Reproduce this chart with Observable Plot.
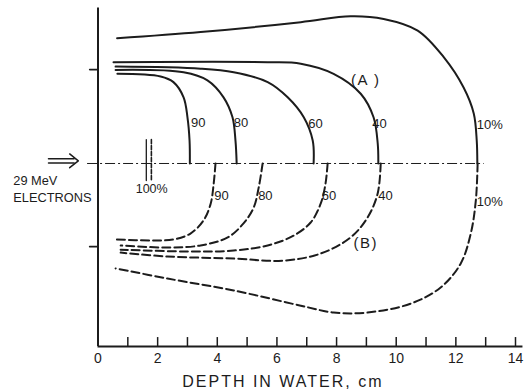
<!DOCTYPE html>
<html><head><meta charset="utf-8">
<script src="https://cdn.jsdelivr.net/npm/d3@7"></script>
<script src="https://cdn.jsdelivr.net/npm/@observablehq/plot@0.6"></script>
<style>
html,body{margin:0;padding:0;background:#fff;}
</style></head>
<body><div id="chart"></div>
<script>
// Depth (cm) vs lateral distance from central axis (cm)
// (A) solid isodose curves, upper half
const solid90 = [[0.65,3.01],[2.1,2.92],[2.53,2.73],[2.87,2.22],[3.0,1.55],[3.07,0.77],[3.08,0]];
const solid80 = [[0.59,3.14],[2.87,3.06],[3.67,2.79],[4.21,2.22],[4.51,1.55],[4.61,0.77],[4.65,0]];
const solid60 = [[0.59,3.25],[3.44,3.18],[4.55,3.06],[5.69,2.73],[6.36,2.22],[6.9,1.55],[7.2,0.77],[7.23,0]];
const solid40 = [[0.52,3.40],[5.69,3.40],[6.8,3.35],[7.9,3.01],[8.81,2.34],[9.24,1.55],[9.38,0.67],[9.4,0]];
const solid10 = [[0.64,4.2],[3.44,4.41],[6.8,4.74],[8.47,4.94],[9.58,4.85],[10.72,4.46],[11.6,3.56],[12.26,2.55],[12.6,1.68],[12.7,0.77],[12.72,0]];
// (B) dashed isodose curves, lower half
const dashed90 = [[3.94,0],[3.88,-0.67],[3.78,-1.34],[3.54,-1.91],[3.1,-2.35],[2.53,-2.55],[1.76,-2.58],[0.59,-2.55]];
const dashed80 = [[5.52,0],[5.39,-0.8],[5.22,-1.48],[4.88,-2.01],[4.35,-2.48],[3.44,-2.75],[2.33,-2.82],[0.76,-2.75]];
const dashed60 = [[7.7,0],[7.63,-0.67],[7.47,-1.34],[7.13,-1.98],[6.56,-2.42],[5.69,-2.75],[4.55,-2.92],[2.87,-2.95],[0.76,-2.89]];
const dashed40 = [[9.48,0],[9.38,-1.0],[9.04,-1.81],[8.47,-2.48],[7.47,-3.02],[6.22,-3.26],[4.55,-3.19],[2.33,-3.12],[0.76,-2.99]];
const dashed10 = [[12.73,0],[12.67,-1.24],[12.5,-2.35],[12.16,-3.36],[11.49,-4.16],[10.49,-4.7],[9.04,-5.0],[7.9,-5.0],[6.8,-4.77],[4.55,-4.26],[2.33,-3.86],[0.59,-3.52]];

const upperLabels = [["90",3.12,1.38],["80",4.55,1.38],["60",7.05,1.34],["40",9.2,1.34],["10%",12.7,1.3]];
const lowerLabels = [["90",3.9,-1.07],["80",5.37,-1.07],["60",7.5,-1.07],["40",9.4,-1.07],["10%",12.7,-1.3]];
const regionLabels = [["(A )",8.98,2.79],["(B)",8.98,-2.68]];
const xTicks = d3.range(1,15);
const xTickLabels = [0,2,4,6,8,10,12,14];
const xTitle = "DEPTH IN WATER, cm";
const beamText = [["29 MeV",-2.84,-0.6],["ELECTRONS",-2.84,-1.17]];
const bracket = [[-0.28,3.15],[0,3.15],[0,-2.79],[-0.28,-2.79]];
const arrowShaftTop = [[-1.66,0.16],[-0.8,0.16]];
const arrowShaftBot = [[-1.66,0.02],[-0.8,0.02]];
const arrowHead = [[-0.95,0.32],[-0.66,0.09],[-0.95,-0.14]];
const marker100Solid = [[1.62,0.8],[1.62,-0.57]];
const marker100Dashed = [[1.79,0.8],[1.79,-0.57]];
const marker100Label = [["100%",1.8,-0.87]];

const ink = "#1c1c1c";
const font = "Liberation Sans, Arial, sans-serif";
const yMin = -6.14, yMax = 5.2;

const P = d => d[0], Q = d => d[1];
const solidLine = arr => Plot.line(arr, {x: P, y: Q, curve: "catmull-rom", stroke: ink, strokeWidth: 2});
const dashLine = arr => Plot.line(arr, {x: P, y: Q, curve: "catmull-rom", stroke: ink, strokeWidth: 2, strokeDasharray: "8,4"});
const labelText = (arr, size, anchor) => Plot.text(arr, {text: d => d[0], x: d => d[1], y: d => d[2], textAnchor: anchor, fontSize: size, fill: ink, fontFamily: font});

const chart = Plot.plot({
  width: 525, height: 391,
  marginLeft: 97.5, marginRight: 10, marginTop: 8, marginBottom: 45,
  x: {domain: [0,14], axis: null},
  y: {domain: [yMin, yMax], axis: null},
  style: {background: "#fff", color: ink, fontFamily: font},
  marks: [
    // axes lines
    Plot.ruleX([0], {y1: yMin, y2: yMax + 0.02, stroke: ink, strokeWidth: 2}),
    Plot.ruleY([yMin], {x1: 0, x2: 14.25, stroke: ink, strokeWidth: 1.8}),
    Plot.ruleX(xTicks, {x: d => d, y1: yMin, y2: yMin + 0.3, stroke: ink, strokeWidth: 1.5}),
    Plot.text(xTickLabels, {x: d => d, y: yMin, dy: 12, text: d => String(d), fontSize: 14, fill: ink, fontFamily: font}),
    Plot.text([xTitle], {x: 6.2, y: yMin, dy: 35, text: d => d, fontSize: 16, fill: ink, fontFamily: font}),
    // central axis
    Plot.ruleY([0], {x1: -0.35, x2: 12.95, stroke: ink, strokeWidth: 1, strokeDasharray: "10,3,2,3"}),
    // beam bracket and arrow
    Plot.line(bracket, {x: P, y: Q, stroke: ink, strokeWidth: 1.6}),
    Plot.line(arrowShaftTop, {x: P, y: Q, stroke: ink, strokeWidth: 1.5}),
    Plot.line(arrowShaftBot, {x: P, y: Q, stroke: ink, strokeWidth: 1.5}),
    Plot.line(arrowHead, {x: P, y: Q, stroke: ink, strokeWidth: 1.5}),
    Plot.text(beamText, {text: d => d[0], x: d => d[1], y: d => d[2], textAnchor: "start", fontSize: 12.8, fill: ink, fontFamily: font}),
    // 100% marker
    Plot.line(marker100Solid, {x: P, y: Q, stroke: ink, strokeWidth: 1.3}),
    Plot.line(marker100Dashed, {x: P, y: Q, stroke: ink, strokeWidth: 1.6, strokeDasharray: "4,2"}),
    labelText(marker100Label, 12.5, "middle"),
    // isodose curves
    solidLine(solid90), solidLine(solid80), solidLine(solid60), solidLine(solid40), solidLine(solid10),
    dashLine(dashed90), dashLine(dashed80), dashLine(dashed60), dashLine(dashed40), dashLine(dashed10),
    labelText(upperLabels, 13, "start"),
    labelText(lowerLabels, 13, "start"),
    labelText(regionLabels, 15, "middle")
  ]
});
d3.select(chart).selectAll("text").filter(function(){ return this.textContent === xTitle; }).attr("letter-spacing", "2px");
d3.select(chart).selectAll("text").filter(function(){ return this.textContent === "(A )" || this.textContent === "(B)"; }).attr("letter-spacing", "1.5px");
document.getElementById("chart").appendChild(chart);
</script>
</body></html>
